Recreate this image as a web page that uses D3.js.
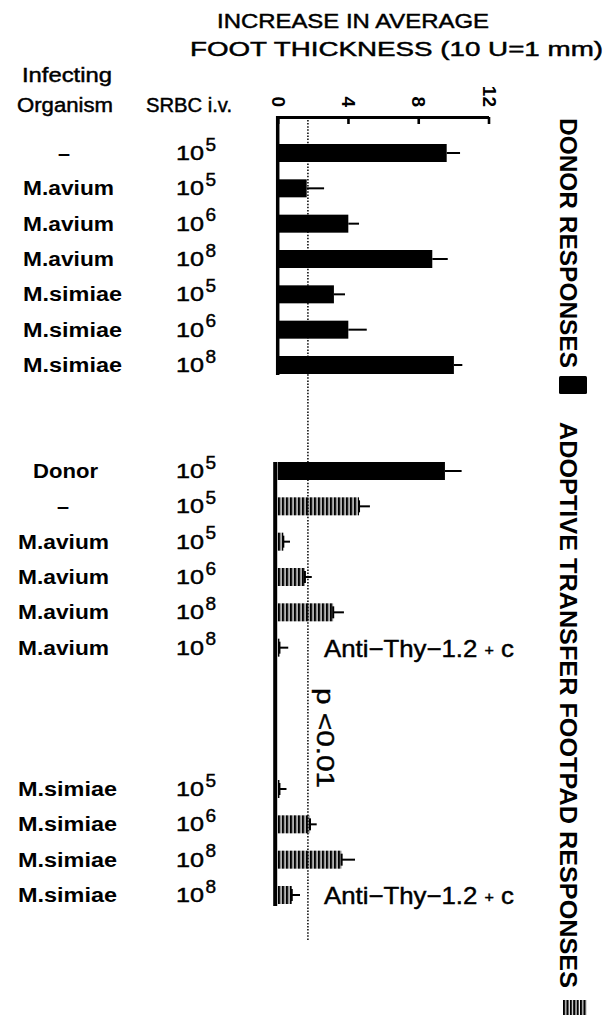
<!DOCTYPE html>
<html><head><meta charset="utf-8">
<script src="https://cdn.jsdelivr.net/npm/d3@7"></script>
<style>
body{margin:0;background:#fff}
svg{display:block;background:#fff}
text{font-family:"Liberation Sans",Arial,Helvetica,sans-serif;fill:#000}
.med{stroke:#000;stroke-width:0.45px}
</style>
</head><body>
<svg id="chart" width="608" height="1017"></svg>
<script>
// ---------------- DATA ----------------
const donorOrganisms = ["–","M.avium","M.avium","M.avium","M.simiae","M.simiae","M.simiae"];
const donorSRBCExp   = ["5","5","6","8","5","6","8"];
const donorMeans     = [9.62,1.65,4.02,8.80,3.20,4.02,10.03];
const donorErrors    = [0.76,0.99,0.61,0.88,0.63,1.05,0.48];

const transferOrganisms = ["Donor","–","M.avium","M.avium","M.avium","M.avium","M.simiae","M.simiae","M.simiae","M.simiae"];
const transferSRBCExp   = ["5","5","5","6","8","8","5","6","8","8"];
const transferMeans     = [9.52,4.63,0.32,1.55,3.16,0.10,0.10,1.84,3.64,0.80];
const transferErrors    = [0.95,0.62,0.38,0.39,0.61,0.50,0.40,0.38,0.76,0.47];
const transferKinds     = ["solid","hatched","hatched","hatched","hatched","hatched","hatched","hatched","hatched","hatched"];
const transferNotes     = ["","","","","","Anti−Thy−1.2 + c","","","","Anti−Thy−1.2 + c"];

const xTickValues = [0,4,8,12];
const referenceValue = 1.72;
const significanceText = "p <0.01";
const titleLines = ["INCREASE IN AVERAGE","FOOT THICKNESS (10 U=1 mm)"];
const legendLabels = ["DONOR RESPONSES","ADOPTIVE TRANSFER FOOTPAD RESPONSES"];

// ---------------- LAYOUT ----------------
const svg = d3.select("#chart");
const x = d3.scaleLinear().domain([0,12]).range([277.7,488.5]);

const donorRows = donorOrganisms.map((o,i)=>({key:"d"+i,org:o,exp:donorSRBCExp[i],mean:donorMeans[i],err:donorErrors[i],kind:"solid",note:"",group:0}));
const transferRows = transferOrganisms.map((o,i)=>({key:"t"+i,org:o,exp:transferSRBCExp[i],mean:transferMeans[i],err:transferErrors[i],kind:transferKinds[i],note:transferNotes[i],group:1}));
const rows = donorRows.concat(transferRows);
const slotDomain = [...donorRows.map(r=>r.key),"g0","g1",...transferRows.slice(0,6).map(r=>r.key),"g2","g3","g4",...transferRows.slice(6).map(r=>r.key)];
const y = d3.scalePoint().domain(slotDomain).range([153,895]);
const barH = 18;

// hatch pattern
const defs = svg.append("defs");
const pat = defs.append("pattern").attr("id","hatch").attr("patternUnits","userSpaceOnUse")
  .attr("width",4).attr("height",20).attr("x",x(0));
pat.append("rect").attr("x",0).attr("y",0).attr("width",2.6).attr("height",20).attr("fill","#000");

// titles
const titleSpecs = [{x:217,y:28,w:272},{x:190,y:56,w:413}];
titleLines.forEach((t,i)=>{
  svg.append("text").attr("class","med").attr("x",titleSpecs[i].x).attr("y",titleSpecs[i].y)
    .attr("font-size",20).attr("textLength",titleSpecs[i].w).attr("lengthAdjust","spacingAndGlyphs").text(t);
});
svg.append("text").attr("class","med").attr("x",22).attr("y",82).attr("font-size",20).attr("textLength",90).attr("lengthAdjust","spacingAndGlyphs").text("Infecting");
svg.append("text").attr("class","med").attr("x",17).attr("y",112).attr("font-size",20).attr("textLength",96).attr("lengthAdjust","spacingAndGlyphs").text("Organism");
svg.append("text").attr("class","med").attr("x",146).attr("y",112).attr("font-size",20).attr("textLength",86).attr("lengthAdjust","spacingAndGlyphs").text("SRBC i.v.");

// reference dotted line
svg.append("line").attr("x1",x(referenceValue)).attr("x2",x(referenceValue)).attr("y1",120).attr("y2",940)
  .attr("stroke","#000").attr("stroke-width",1.5).attr("stroke-dasharray","1.5,1.6");

// top axis
const axisG = svg.append("g").attr("transform","translate(0,117)")
  .call(d3.axisTop(x).tickValues(xTickValues).tickSizeInner(-7).tickSizeOuter(0).tickPadding(0));
axisG.select(".domain").attr("stroke","#000").attr("stroke-width",3);
axisG.selectAll(".tick line").attr("stroke","#000").attr("stroke-width",2.6);
axisG.selectAll(".tick text").attr("x",0).attr("y",0).attr("dy",null)
  .attr("transform","translate(-6.5,-10) rotate(90)")
  .attr("text-anchor","end").attr("font-size",19).attr("font-weight","bold")
  .attr("font-family","Liberation Sans, Arial, sans-serif").attr("fill","#000");

// vertical axes
svg.append("line").attr("x1",x(0)).attr("x2",x(0)).attr("y1",116).attr("y2",y("d6")+barH/2+1)
  .attr("stroke","#000").attr("stroke-width",3.5);
svg.append("line").attr("x1",x(0)-2.5).attr("x2",x(0)-2.5).attr("y1",y("t0")-barH/2).attr("y2",y("t9")+barH/2+2)
  .attr("stroke","#000").attr("stroke-width",4);

// bars
svg.selectAll("rect.bar").data(rows).enter().append("rect").attr("class","bar")
  .attr("x",x(0)).attr("y",d=>y(d.key)-barH/2)
  .attr("width",d=>Math.max(0,x(d.mean)-x(0))).attr("height",barH)
  .attr("fill",d=>d.kind==="solid"?"#000":"url(#hatch)");
// bar end edge for hatched
svg.selectAll("line.edge").data(rows.filter(r=>r.kind==="hatched")).enter().append("line").attr("class","edge")
  .attr("x1",d=>x(d.mean)).attr("x2",d=>x(d.mean)).attr("y1",d=>y(d.key)-barH/2+3).attr("y2",d=>y(d.key)+barH/2-3)
  .attr("stroke","#000").attr("stroke-width",2);
// error bars
svg.selectAll("line.err").data(rows).enter().append("line").attr("class","err")
  .attr("x1",d=>x(d.mean)).attr("x2",d=>x(d.mean+d.err)).attr("y1",d=>y(d.key)).attr("y2",d=>y(d.key))
  .attr("stroke","#000").attr("stroke-width",2);

// row labels
rows.forEach(r=>{
  const cy = y(r.key);
  const isName = r.org.startsWith("M.");
  const t = svg.append("text").attr("y",cy+7).attr("font-size",20).attr("font-weight","bold");
  if(isName){
    t.attr("x", r.group===0?23:18).attr("text-anchor","start")
     .attr("textLength", r.org==="M.avium"?91:99).attr("lengthAdjust","spacingAndGlyphs");
  } else if(r.org==="Donor"){
    t.attr("x",33).attr("textLength",65).attr("lengthAdjust","spacingAndGlyphs");
  } else {
    t.attr("x",r.group===0?58:57).attr("textLength",12).attr("lengthAdjust","spacingAndGlyphs");
  }
  t.text(r.org);
  svg.append("text").attr("class","med").attr("x",176).attr("y",cy+7).attr("font-size",20)
    .attr("textLength",28).attr("lengthAdjust","spacingAndGlyphs").text("10");
  svg.append("text").attr("class","med").attr("x",205.5).attr("y",cy-2.5).attr("font-size",19).text(r.exp);
  if(r.note){
    const n = svg.append("text").attr("class","med").attr("x",324).attr("y",cy+9).attr("font-size",24)
      .attr("textLength",190).attr("lengthAdjust","spacingAndGlyphs");
    n.append("tspan").text("Anti−Thy−1.2 ");
    n.append("tspan").attr("font-size",15).attr("dy",-2).text("+");
    n.append("tspan").attr("dy",2).text(" c");
  }
});

// significance
svg.append("text").attr("class","med").attr("transform","translate(317,688) rotate(90)").attr("font-size",23)
  .attr("textLength",100).attr("lengthAdjust","spacingAndGlyphs").text(significanceText);

// legend column
svg.append("text").attr("transform","translate(560,118) rotate(90)").attr("font-size",24).attr("font-weight","bold")
  .attr("textLength",250).attr("lengthAdjust","spacingAndGlyphs").text(legendLabels[0]);
svg.append("rect").attr("x",559).attr("y",376).attr("width",28).attr("height",18).attr("rx",1.5).attr("fill","#000");
svg.append("text").attr("transform","translate(560,422) rotate(90)").attr("font-size",24).attr("font-weight","bold")
  .attr("textLength",566).attr("lengthAdjust","spacingAndGlyphs").text(legendLabels[1]);
const pat2 = defs.append("pattern").attr("id","hatch2").attr("patternUnits","userSpaceOnUse")
  .attr("width",3.4).attr("height",20).attr("x",563);
pat2.append("rect").attr("width",2.2).attr("height",20).attr("fill","#000");
svg.append("rect").attr("x",563).attr("y",1000).attr("width",24).attr("height",15).attr("fill","url(#hatch2)");
</script>
</body></html>
